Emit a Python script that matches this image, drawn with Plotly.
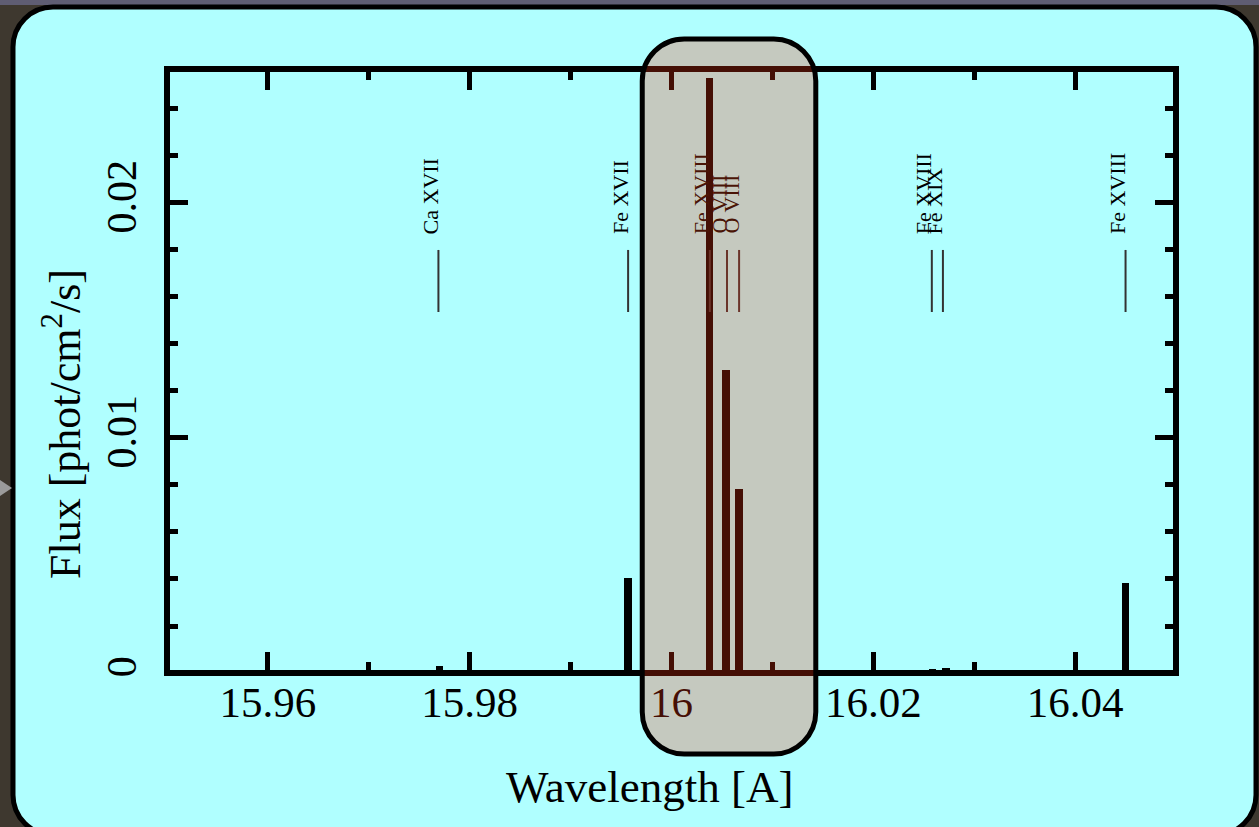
import plotly.graph_objects as go

# ---------------- data ----------------
line_wavelength = [15.9770, 15.9906, 15.9957, 16.0038, 16.0054, 16.0067, 16.0217, 16.0259, 16.0272, 16.0405, 16.0450]
line_flux       = [0.00030, 0.00008, 0.00404, 0.02532, 0.01289, 0.00783, 0.00008, 0.00018, 0.00022, 0.00010, 0.00383]

label_wavelength = [15.9769, 15.9957, 16.0038, 16.0055, 16.0067, 16.0258, 16.0269, 16.0450]
label_text       = ["Ca XVII", "Fe XVII", "Fe XVIII", "O VIII", "O VIII", "Fe XVIII", "Fe XIX", "Fe XVIII"]

x_tick_vals = [15.96, 15.98, 16.00, 16.02, 16.04]
x_tick_text = ["15.96", "15.98", "16", "16.02", "16.04"]
y_tick_vals = [0, 0.01, 0.02]
y_tick_text = ["0", "0.01", "0.02"]

x_title = "Wavelength [A]"
y_title = "Flux [phot/cm<sup>2</sup>/s]"

x_range = [15.95, 16.05]
y_range = [0, 0.0257]
highlight_range = [15.9971, 16.0143]   # wavelength window of the highlight box

# ---------------- layout geometry ----------------
W, H = 1259, 827
L, R, T, B = 167, 83, 69, 154
PW, PH = W - L - R, H - T - B
FONT = "Liberation Serif"
K = 0.5523


def paper(px, py):
    return (px - L) / PW, (H - B - py) / PH


def rounded(x0, y0, x1, y1, r):
    def P(x, y):
        a, b = paper(x, y)
        return f"{a:.5f},{b:.5f}"
    k = r * (1 - K)
    s = (f"M {P(x0 + r, y0)} L {P(x1 - r, y0)} "
         f"C {P(x1 - k, y0)} {P(x1, y0 + k)} {P(x1, y0 + r)} "
         f"L {P(x1, y1 - r)} C {P(x1, y1 - k)} {P(x1 - k, y1)} {P(x1 - r, y1)} "
         f"L {P(x0 + r, y1)} C {P(x0 + k, y1)} {P(x0, y1 - k)} {P(x0, y1 - r)} "
         f"L {P(x0, y0 + r)} C {P(x0, y0 + k)} {P(x0 + k, y0)} {P(x0 + r, y0)} Z")
    return s


def xpx(x):
    return L + (x - x_range[0]) / (x_range[1] - x_range[0]) * PW


fig = go.Figure()

# label marker lines
lx, ly = [], []
for w in label_wavelength:
    lx += [w, w, None]
    ly += [0.01536, 0.0180, None]
fig.add_trace(go.Scatter(x=lx, y=ly, mode="lines",
                         line=dict(color="#333333", width=2),
                         hoverinfo="skip", showlegend=False))

# spectral lines
fig.add_trace(go.Bar(x=line_wavelength, y=line_flux, width=0.00072,
                     marker=dict(color="black", line=dict(width=0)),
                     showlegend=False))

shapes = []
# dark strip on top
shapes.append(dict(type="rect", xref="paper", yref="paper", layer="below",
                   x0=paper(-20, 0)[0], x1=paper(W + 20, 0)[0],
                   y0=paper(0, 5)[1], y1=paper(0, -20)[1],
                   fillcolor="#5f5d73", line=dict(width=0)))
# cyan panel
shapes.append(dict(type="path", xref="paper", yref="paper", layer="below",
                   path=rounded(13, 7, 1256, 835, 40), fillcolor="#b0ffff",
                   line=dict(color="black", width=5)))
# little nav triangle
a0 = paper(0, 480); a1 = paper(12, 488); a2 = paper(0, 496)
shapes.append(dict(type="path", xref="paper", yref="paper", layer="below",
                   path=f"M {a0[0]},{a0[1]} L {a1[0]},{a1[1]} L {a2[0]},{a2[1]} Z",
                   fillcolor="#9b9b9b", line=dict(width=0)))
# frame
shapes.append(dict(type="rect", xref="paper", yref="paper", x0=0, x1=1, y0=0, y1=1,
                   layer="above", line=dict(color="black", width=6)))
# highlight box
hx0, hx1 = xpx(highlight_range[0]), xpx(highlight_range[1])
shapes.append(dict(type="path", xref="paper", yref="paper", layer="above",
                   path=rounded(hx0, 39, hx1, 754, 42),
                   fillcolor="rgba(255,56,18,0.27)",
                   line=dict(color="black", width=5)))

annotations = []
for w, t in zip(label_wavelength, label_text):
    inside = highlight_range[0] < w < highlight_range[1]
    annotations.append(dict(x=w, xref="x", y=paper(0, 236)[1], yref="paper",
                            text=t, textangle=-90, showarrow=False,
                            xanchor="center", yanchor="bottom", xshift=-8,
                            font=dict(family=FONT, size=22,
                                      color="#4a1406" if inside else "black")))

# axis titles (placed as in the reference, slightly off-centre)
xt = paper(650, 787)
annotations.append(dict(x=xt[0], y=xt[1], xref="paper", yref="paper", text=x_title,
                        showarrow=False, xanchor="center", yanchor="middle",
                        font=dict(family=FONT, size=45, color="black")))
yt = paper(63, 424)
annotations.append(dict(x=yt[0], y=yt[1], xref="paper", yref="paper", text=y_title,
                        showarrow=False, xanchor="center", yanchor="middle", textangle=-90,
                        font=dict(family=FONT, size=44, color="black")))

fig.update_layout(
    width=W, height=H,
    margin=dict(l=L, r=R, t=T, b=B, pad=0),
    paper_bgcolor="#3e382f",
    plot_bgcolor="rgba(0,0,0,0)",
    shapes=shapes,
    annotations=annotations,
    font=dict(family=FONT, color="black"),
    bargap=0,
    xaxis=dict(range=x_range, tickmode="array", tickvals=x_tick_vals, ticktext=x_tick_text,
               ticks="inside", ticklen=21, tickwidth=5, tickcolor="black",
               showline=False, mirror="allticks", showgrid=False, zeroline=False,
               tickfont=dict(family=FONT, size=43, color="black"),
               minor=dict(dtick=0.01, tick0=15.95, ticks="inside", ticklen=11, tickwidth=5,
                          tickcolor="black", showgrid=False)),
    yaxis=dict(range=y_range, tickmode="array", tickvals=y_tick_vals, ticktext=y_tick_text,
               tickangle=-90, ticklabelstandoff=22,
               ticks="inside", ticklen=21, tickwidth=5, tickcolor="black",
               showline=False, mirror="allticks", showgrid=False, zeroline=False,
               tickfont=dict(family=FONT, size=42, color="black"),
               minor=dict(dtick=0.002, tick0=0, ticks="inside", ticklen=11, tickwidth=5,
                          tickcolor="black", showgrid=False)),
)

fig.write_html("out.html")
